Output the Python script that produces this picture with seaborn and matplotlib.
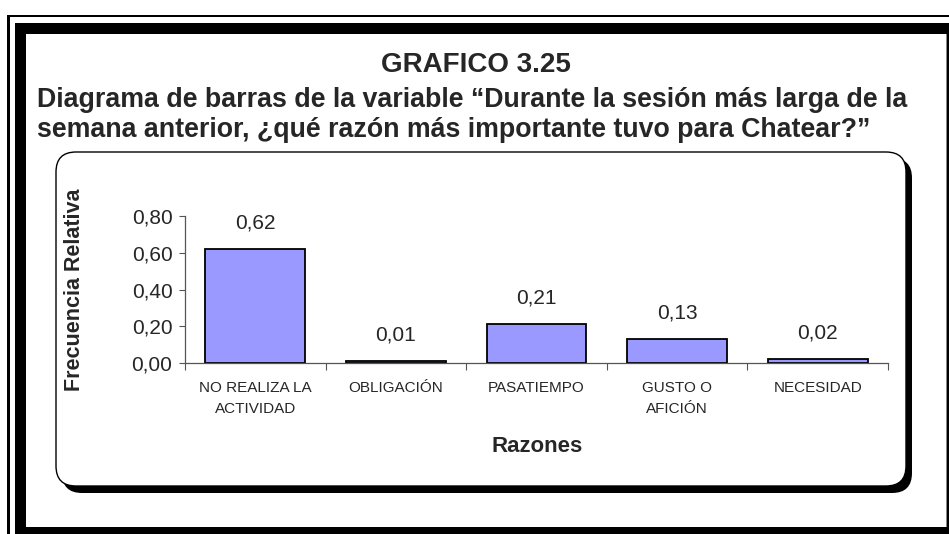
import matplotlib
matplotlib.use("Agg")
import matplotlib.pyplot as plt
import seaborn as sns
import pandas as pd
from matplotlib.patches import FancyBboxPatch, Rectangle
from matplotlib.transforms import IdentityTransform
from matplotlib.ticker import FixedLocator, FuncFormatter

categories = ["NO REALIZA LA\nACTIVIDAD", "OBLIGACIÓN", "PASATIEMPO", "GUSTO O\nAFICIÓN", "NECESIDAD"]
values = [0.62, 0.01, 0.21, 0.13, 0.02]
yticks = [0.0, 0.2, 0.4, 0.6, 0.8]
title = "GRAFICO 3.25"
subtitle1 = "Diagrama de barras de la variable \u201cDurante la sesión más larga de la"
subtitle2 = "semana anterior, ¿qué razón más importante tuvo para Chatear?\u201d"
xlabel = "Razones"
ylabel = "Frecuencia Relativa"

sns.set_style("white")
plt.rcParams["font.family"] = ["Liberation Sans", "DejaVu Sans"]

W, H = 949, 534
fig = plt.figure(figsize=(W / 100, H / 100), dpi=100)
fig.patch.set_facecolor("white")

ID = IdentityTransform()

def rect(x0, y0, x1, y1, **kw):
    r = Rectangle((x0, H - y1), x1 - x0, y1 - y0, transform=ID, **kw)
    fig.patches.append(r)
    r.set_figure(fig)
    return r

# outer thin frame
rect(7, 15, 960, 17, facecolor="black", edgecolor="none", zorder=-5)
rect(7, 15, 10, 540, facecolor="black", edgecolor="none", zorder=-5)
# thick frame
rect(15, 23, 960, 34, facecolor="black", edgecolor="none", zorder=-5)
rect(15, 23, 26, 540, facecolor="black", edgecolor="none", zorder=-5)
rect(15, 527, 960, 540, facecolor="black", edgecolor="none", zorder=-5)
rect(947, 23, 960, 540, facecolor="black", edgecolor="none", zorder=-5)
rect(945.5, 34, 946.5, 527, facecolor="#888888", edgecolor="none", zorder=-5)

# inner rounded box with shadow
def rbox(x0, y0, x1, y1, **kw):
    b = FancyBboxPatch((x0, H - y1), x1 - x0, y1 - y0,
                       boxstyle="round,pad=0,rounding_size=20",
                       transform=ID, **kw)
    fig.patches.append(b)
    b.set_figure(fig)
    return b

rbox(62, 158, 912, 493, facecolor="black", edgecolor="black", linewidth=0, zorder=-4)
rbox(56, 152, 906, 486, facecolor="white", edgecolor="black", linewidth=1.0, zorder=-3)

# titles
fig.text(476 / W, 1 - 72 / H, title, ha="center", va="baseline",
         fontsize=20, fontweight="bold")
fig.text(37 / W, 1 - 107 / H, subtitle1, ha="left", va="baseline",
         fontsize=19.3, fontweight="bold")
fig.text(37 / W, 1 - 137 / H, subtitle2, ha="left", va="baseline",
         fontsize=19.3, fontweight="bold")

# axes
ax_l, ax_r, ax_t, ax_b = 185, 888, 216, 363
ax = fig.add_axes([ax_l / W, 1 - ax_b / H, (ax_r - ax_l) / W, (ax_b - ax_t) / H])
ax.patch.set_visible(False)

df = pd.DataFrame({"cat": categories, "val": values})
sns.barplot(data=df, x="cat", y="val", color="#9999FF", saturation=1,
            edgecolor="black", linewidth=1.3, width=0.71, ax=ax)

ax.set_xlim(-0.5, len(categories) - 0.5)
ax.set_ylim(0, 0.8)
ax.set_yticks(yticks)
ax.yaxis.set_major_formatter(FuncFormatter(lambda v, p: f"{v:.2f}".replace(".", ",")))
ax.tick_params(axis="y", labelsize=15, length=4, width=0.8, color="#555555",
               direction="out", pad=5, left=True)

ax.xaxis.set_major_locator(FixedLocator([i - 0.5 for i in range(len(categories) + 1)]))
ax.xaxis.set_minor_locator(FixedLocator(list(range(len(categories)))))
ax.set_xticklabels([], minor=False)
ax.set_xticklabels(categories, minor=True, fontsize=11, linespacing=1.6)
ax.tick_params(axis="x", which="major", length=5, width=0.8, color="#555555",
               direction="out", bottom=True)
ax.tick_params(axis="x", which="minor", length=0, pad=13)

for s in ["top", "right"]:
    ax.spines[s].set_visible(False)
for s in ["left", "bottom"]:
    ax.spines[s].set_color("#555555")
    ax.spines[s].set_linewidth(0.9)

ax.set_xlabel("")
ax.set_ylabel("")

for i, v in enumerate(values):
    ax.annotate(f"{v:.2f}".replace(".", ","), (i, v), xytext=(0, 19),
                textcoords="offset points", ha="center", va="center", fontsize=15)

fig.text(537 / W, 1 - 446 / H, xlabel, ha="center", va="center",
         fontsize=16, fontweight="bold")
fig.text(74 / W, 1 - 290 / H, ylabel, ha="center", va="center", rotation=90,
         fontsize=15.5, fontweight="bold")

fig.savefig("out.png", dpi=100)
